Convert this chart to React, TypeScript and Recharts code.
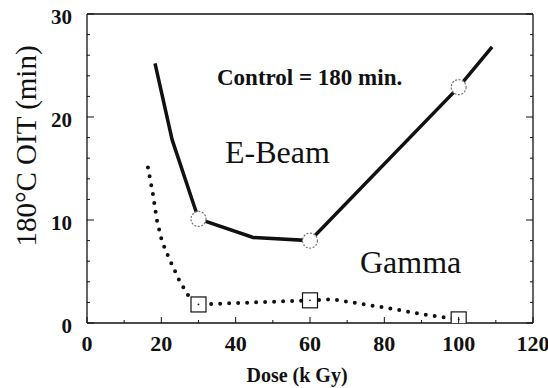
import React from "react";
import { LineChart, Line, XAxis, YAxis } from "recharts";

// E-Beam series (solid line)
const eBeamDose = [18.3, 22.9, 30, 44.7, 60, 100, 109];
const eBeamOit = [25.2, 17.8, 10.1, 8.3, 8.0, 22.9, 26.8];

// Gamma series (dotted line)
const gammaDose = [16.4, 17.7, 18.8, 20.2, 22.3, 25, 27.7, 30, 45, 60, 66, 73, 81, 91, 100];
const gammaOit = [15.1, 12.6, 10, 7.9, 6.1, 4, 2.4, 1.8, 2.0, 2.2, 2.3, 1.9, 1.45, 0.8, 0.35];

// doses where a measured point is marked
const markedDoses = [30, 60, 100];

const xTicks = [0, 10, 20, 30, 40, 50, 60, 70, 80, 90, 100, 110, 120];
const yTicks = [0, 2, 4, 6, 8, 10, 12, 14, 16, 18, 20, 22, 24, 26, 28, 30];

const eBeamData = eBeamDose.map((d, i) => ({ dose: d, oit: eBeamOit[i] }));
const gammaData = gammaDose.map((d, i) => ({ dose: d, oit: gammaOit[i] }));

const serif = "Liberation Serif, DejaVu Serif, serif";
const ink = "#111";

const txt = (size: number, bold = false) => ({
    fontFamily: serif,
    fontSize: size,
    fontWeight: bold ? 700 : 400,
    fill: ink,
});

const BottomTick = ({ x, y, payload }: any) => {
    const major = payload.value % 20 === 0;
    return (
        <g>
            <line x1={x} x2={x} y1={y} y2={y - (major ? 6 : 3)} stroke={ink} />
            {major && (
                <text x={x} y={y + 28} textAnchor="middle" style={txt(22, true)}>
                    {payload.value}
                </text>
            )}
        </g>
    );
};

const TopTick = ({ x, y, payload }: any) => {
    const major = payload.value % 20 === 0;
    return <line x1={x} x2={x} y1={y} y2={y + (major ? 6 : 3)} stroke={ink} />;
};

const LeftTick = ({ x, y, payload }: any) => {
    const major = payload.value % 10 === 0;
    return (
        <g>
            <line x1={x} x2={x + (major ? 7 : 3)} y1={y} y2={y} stroke={ink} />
            {major && (
                <text x={x - 15} y={y + 10} textAnchor="end" style={txt(21, true)}>
                    {payload.value}
                </text>
            )}
        </g>
    );
};

const RightTick = ({ x, y, payload }: any) => {
    const major = payload.value % 10 === 0;
    return <line x1={x} x2={x - (major ? 7 : 3)} y1={y} y2={y} stroke={ink} />;
};

const CircleDot = (props: any) => {
    const { cx, cy, payload, index } = props;
    if (!markedDoses.includes(payload.dose)) return <g key={`c-${index}`} />;
    return (
        <circle key={`c-${index}`} cx={cx} cy={cy} r={7.5} fill="#fff" stroke="#777" strokeWidth={1.2} strokeDasharray="2 1.5" />
    );
};

const SquareDot = (props: any) => {
    const { cx, cy, payload, index } = props;
    if (!markedDoses.includes(payload.dose)) return <g key={`s-${index}`} />;
    return (
        <g key={`s-${index}`}>
            <rect x={cx - 7.5} y={cy - 7.5} width={15} height={15} fill="#fff" stroke={ink} strokeWidth={1.2} />
            <circle cx={cx} cy={cy} r={0.9} fill={ink} />
        </g>
    );
};

export default function App() {
    return (
        <div style={{ position: "absolute", left: 0, top: 0, background: "#fff" }}>
            <LineChart width={548} height={388} margin={{ top: 13, right: 14, bottom: 0, left: 0 }}>
                <XAxis
                    xAxisId="bottom"
                    dataKey="dose"
                    type="number"
                    domain={[0, 120]}
                    ticks={xTicks}
                    interval={0}
                    height={65}
                    tickSize={0}
                    tickMargin={0}
                    tickLine={false}
                    tick={<BottomTick />}
                    axisLine={{ stroke: ink, strokeWidth: 1.3 }}
                    allowDataOverflow
                />
                <XAxis
                    xAxisId="top"
                    orientation="top"
                    type="number"
                    domain={[0, 120]}
                    ticks={xTicks}
                    interval={0}
                    height={1}
                    tickSize={0}
                    tickMargin={0}
                    tickLine={false}
                    tick={<TopTick />}
                    axisLine={{ stroke: ink, strokeWidth: 1.3 }}
                    allowDataOverflow
                />
                <YAxis
                    yAxisId="left"
                    type="number"
                    domain={[0, 30]}
                    ticks={yTicks}
                    interval={0}
                    width={87}
                    tickSize={0}
                    tickMargin={0}
                    tickLine={false}
                    tick={<LeftTick />}
                    axisLine={{ stroke: ink, strokeWidth: 1.3 }}
                    allowDataOverflow
                />
                <YAxis
                    yAxisId="right"
                    orientation="right"
                    type="number"
                    domain={[0, 30]}
                    ticks={yTicks}
                    interval={0}
                    width={1}
                    tickSize={0}
                    tickMargin={0}
                    tickLine={false}
                    tick={<RightTick />}
                    axisLine={{ stroke: ink, strokeWidth: 1.3 }}
                    allowDataOverflow
                />
                <Line
                    xAxisId="bottom"
                    yAxisId="left"
                    data={gammaData}
                    dataKey="oit"
                    type="linear"
                    stroke={ink}
                    strokeWidth={4}
                    strokeDasharray="0 9"
                    strokeLinecap="round"
                    dot={SquareDot}
                    activeDot={false}
                    isAnimationActive={false}
                />
                <Line
                    xAxisId="bottom"
                    yAxisId="left"
                    data={eBeamData}
                    dataKey="oit"
                    type="linear"
                    stroke={ink}
                    strokeWidth={3.5}
                    dot={CircleDot}
                    activeDot={false}
                    isAnimationActive={false}
                />
                <text x={217} y={85} style={txt(23, true)}>
                    Control = 180 min.
                </text>
                <text x={225} y={163} style={txt(32)}>
                    E-Beam
                </text>
                <text x={360} y={273} style={txt(32)}>
                    Gamma
                </text>
                <text x={36} y={146} transform="rotate(-90, 36, 146)" textAnchor="middle" style={txt(29)}>
                    180°C OIT (min)
                </text>
                <text x={297} y={382} textAnchor="middle" style={txt(20, true)}>
                    Dose (k Gy)
                </text>
            </LineChart>
        </div>
    );
}
